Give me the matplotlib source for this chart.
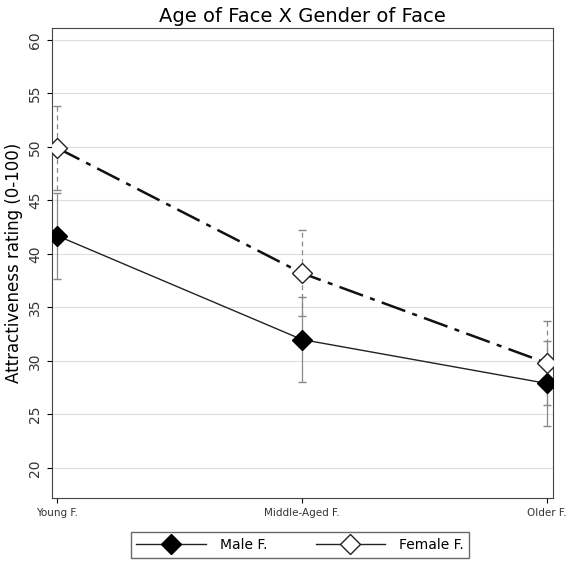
import matplotlib
matplotlib.use("Agg")
import matplotlib.pyplot as plt
from matplotlib.lines import Line2D

categories = ["Young F.", "Middle-Aged F.", "Older F."]
male = [41.7, 32.0, 27.9]
male_err = [4.0, 4.0, 4.0]
female = [49.9, 38.2, 29.8]
female_err = [3.95, 4.0, 3.95]
yticks = [20, 25, 30, 35, 40, 45, 50, 55, 60]

fig = plt.figure(figsize=(5.67, 5.66), dpi=100)
ax = fig.add_axes([52/567, 68/566, 501/567, 470/566])
x = list(range(len(categories)))

ax.errorbar(x, male, yerr=male_err, fmt="none", ecolor="#888888", elinewidth=0.9, capsize=3)
eb = ax.errorbar(x, female, yerr=female_err, fmt="none", ecolor="#888888", elinewidth=0.9, capsize=3)
for c in eb[2]:
    c.set_linestyle((0, (4, 3)))
ax.plot(x, male, color="#222222", lw=1, marker="D", ms=10, mfc="black", mec="black", zorder=3)
ax.plot(x, female, color="#111111", lw=1.8, ls=(0, (10, 3, 2, 3)), marker="D", ms=10,
        mfc="white", mec="#222222", mew=1, zorder=3)

ax.set_xlim(-0.021, 2.025)
ax.set_ylim(17.2, 61.1)
ax.set_yticks(yticks)
ax.set_yticklabels([str(t) for t in yticks], rotation=90, va="center", fontsize=10, color="#333333")
ax.set_xticks(x)
ax.set_xticklabels(categories, fontsize=7.5, color="#333333")
ax.grid(axis="y", color="#dddddd", lw=0.8)
ax.set_axisbelow(True)
ax.set_ylabel("Attractiveness rating (0-100)", fontsize=12)
ax.set_title("Age of Face X Gender of Face", fontsize=14, pad=4)
for s in ax.spines.values():
    s.set_color("#444444")

handles = [Line2D([], [], color="#222222", lw=1, marker="D", ms=10, mfc="black", mec="black"),
           Line2D([], [], color="#222222", lw=1, marker="D", ms=10, mfc="white", mec="#222222")]
fig.legend(handles, ["Male F.", "Female F."], loc="center", bbox_to_anchor=(300/567, 1 - 545/566),
           ncol=2, frameon=True, fancybox=False, edgecolor="#444444", fontsize=10,
           handlelength=5, columnspacing=3.5, handletextpad=1.0)
fig.savefig("out.png", dpi=100)
